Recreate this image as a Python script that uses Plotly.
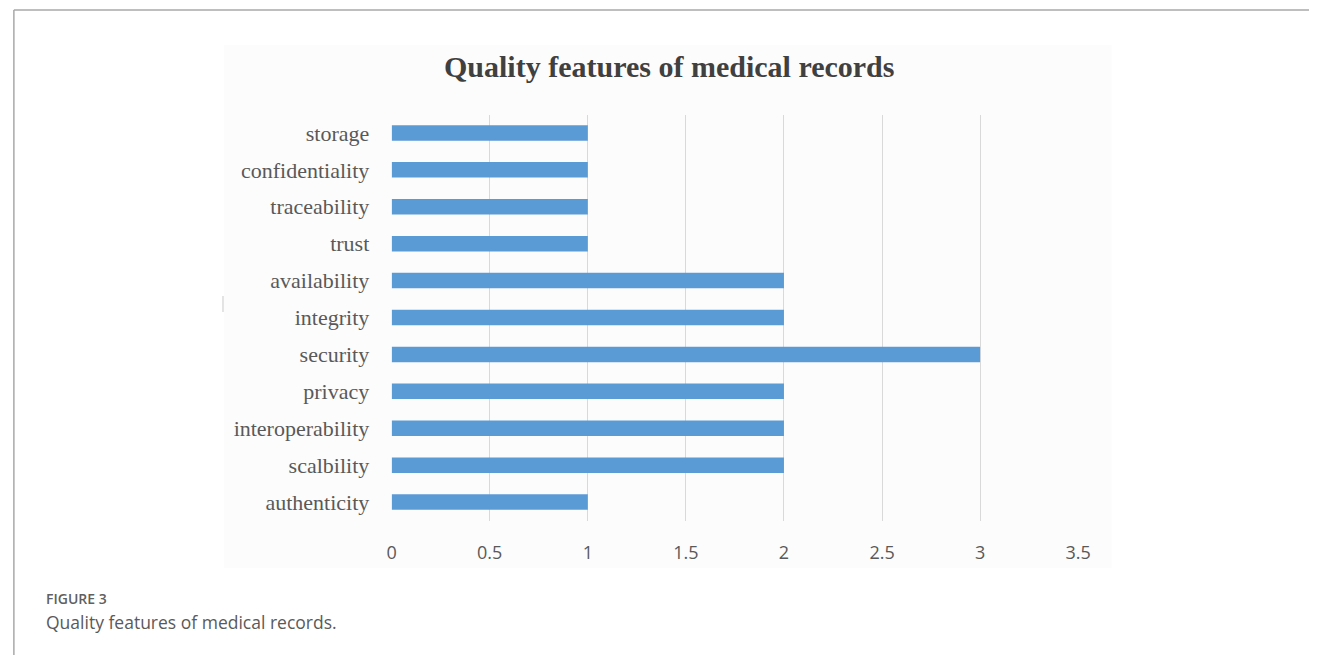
import plotly.graph_objects as go

categories = ["authenticity", "scalbility", "interoperability", "privacy", "security",
              "integrity", "availability", "trust", "traceability", "confidentiality", "storage"]
values = [1, 2, 2, 2, 3, 2, 2, 1, 1, 1, 1]
x_ticks = [0, 0.5, 1, 1.5, 2, 2.5, 3, 3.5]
x_tick_labels = ["0", "0.5", "1", "1.5", "2", "2.5", "3", "3.5"]

W, H = 1322, 655

def px(x):
    return x / W

def py(y):
    return 1 - y / H

fig = go.Figure()
fig.add_trace(go.Bar(
    y=categories, x=values, orientation="h",
    marker=dict(color="#5B9BD5", line=dict(width=0)),
    width=0.42, hoverinfo="x+y",
))

fig.update_layout(
    width=W, height=H,
    margin=dict(l=0, r=0, t=0, b=0),
    paper_bgcolor="white", plot_bgcolor="rgba(0,0,0,0)",
    showlegend=False,
    xaxis=dict(
        domain=[px(392), px(1088)],
        range=[0, 3.5], tickvals=x_ticks, ticktext=x_tick_labels,
        showgrid=True, gridcolor="#d9d9d9", gridwidth=1,
        zeroline=False, showline=False,
        ticks="outside", ticklen=16, tickcolor="rgba(0,0,0,0)",
        tickfont=dict(family="Open Sans, DejaVu Sans, sans-serif", size=18, color="#595959"),
        fixedrange=True,
    ),
    yaxis=dict(
        domain=[py(520.5), py(114.5)],
        range=[-0.5, 10.5],
        categoryorder="array", categoryarray=categories,
        showgrid=False, zeroline=False, showline=False,
        ticks="outside", ticklen=17, tickcolor="rgba(0,0,0,0)",
        tickfont=dict(family="Liberation Serif, Times New Roman, serif", size=22, color="#595959"),
        fixedrange=True,
    ),
    shapes=[
        dict(type="rect", xref="paper", yref="paper",
             x0=px(222), x1=px(1122), y0=py(568), y1=py(45),
             fillcolor="#fcfcfc", line=dict(width=0), layer="below"),
        dict(type="line", xref="paper", yref="paper",
             x0=px(221), x1=px(221), y0=py(296), y1=py(312),
             line=dict(color="#c8c8c8", width=1)),
        dict(type="line", xref="paper", yref="paper",
             x0=px(9), x1=1, y0=py(10), y1=py(10),
             line=dict(color="#a9a9a9", width=1.5)),
        dict(type="line", xref="paper", yref="paper",
             x0=px(9), x1=px(9), y0=py(10), y1=0,
             line=dict(color="#a9a9a9", width=1.5)),
    ],
    annotations=[
        dict(text="<b>Quality features of medical records</b>", xref="paper", yref="paper",
             x=px(673), y=py(66), xanchor="center", yanchor="middle", showarrow=False,
             font=dict(family="Liberation Serif, Times New Roman, serif", size=30, color="#404040")),
        dict(text="FIGURE 3", xref="paper", yref="paper",
             x=px(40), y=py(598), xanchor="left", yanchor="middle", showarrow=False,
             font=dict(family="Open Sans, sans-serif", size=14, color="#606060", weight=600)),
        dict(text="Quality features of medical records.", xref="paper", yref="paper",
             x=px(40), y=py(622), xanchor="left", yanchor="middle", showarrow=False,
             font=dict(family="Open Sans, sans-serif", size=17.5, color="#5a5a5a")),
    ],
)

fig.write_html("out.html")
